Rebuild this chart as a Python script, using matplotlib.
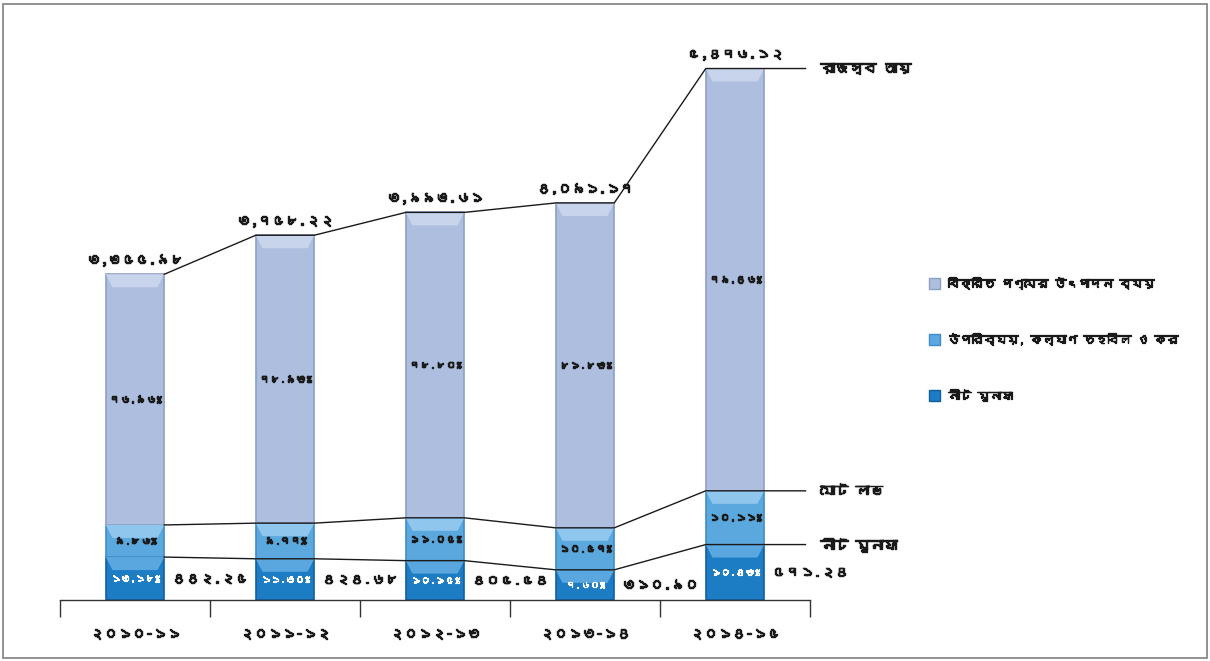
import matplotlib
matplotlib.use("Agg")
import matplotlib.pyplot as plt
from matplotlib import font_manager as fm
from matplotlib import patheffects as pe
from matplotlib.ft2font import FT2Font
from matplotlib.patches import Polygon, Rectangle, Patch
import numpy as np

# ---- data -------------------------------------------------------------
years = ["২০১০-১১", "২০১১-১২", "২০১২-১৩", "২০১৩-১৪", "২০১৪-১৫"]
revenue = [3355.98, 3758.22, 3993.61, 4091.17, 5476.12]      # রাজস্ব আয়
net_profit = [442.25, 424.68, 405.54, 310.90, 571.24]        # নীট মুনাফা
cogs_pct = [76.96, 78.93, 78.80, 81.83, 79.46]               # বিক্রিত পণ্যের উৎপাদন ব্যয় (%)
overhead_pct = [9.86, 9.77, 11.05, 10.57, 10.11]             # উপরিব্যয়, কল্যাণ তহবিল ও কর (%)
net_pct = [13.18, 11.30, 10.15, 7.60, 10.43]                 # নীট মুনাফা (%)

series_names = ["বিক্রিত পণ্যের উৎপাদন ব্যয়", "উপরিব্যয়, কল্যাণ তহবিল ও কর", "নীট মুনাফা"]
line_names = ["রাজস্ব আয়", "মোট লাভ", "নীট মুনাফা"]


# ---- font: pick an installed face that has Bengali glyphs, if any -----
def bengali_family():
    seen = set()
    for f in fm.fontManager.ttflist:
        if f.fname in seen:
            continue
        seen.add(f.fname)
        try:
            cmap = FT2Font(f.fname).get_charmap()
        except Exception:
            continue
        if ord("ক") in cmap and ord("৫") in cmap:
            return f.name
    return None


fam = bengali_family()
families = ([fam] if fam else []) + ["DejaVu Sans"]
plt.rcParams["font.family"] = families

BN = str.maketrans("0123456789", "০১২৩৪৫৬৭৮৯")


def bn(s):
    return s.translate(BN)


INK = "#1a1a1a"
# thicken the strokes so the text reads as bold
heavy = [pe.withStroke(linewidth=1.0, foreground=INK)]
heavy_white = [pe.withStroke(linewidth=0.8, foreground="white")]

# ---- colours ----------------------------------------------------------
seg_face = ["#adbede", "#5ba8de", "#1c7cc4"]
seg_bevel = ["#c8d4ec", "#8fc6ee", "#5aa6de"]
seg_edge = ["#8d9fc6", "#3f8cc8", "#135f9f"]

# ---- figure / axes ----------------------------------------------------
W, H = 1210, 661
fig = plt.figure(figsize=(W / 100, H / 100), dpi=100)
fig.patch.set_facecolor("white")
fig.add_artist(Rectangle((3 / W, 3 / H), 1 - 6 / W, 1 - 7 / H, transform=fig.transFigure,
                         fill=False, edgecolor="#7f7f7f", linewidth=1.2))

ax = fig.add_axes([60 / W, 61 / H, 750 / W, 560 / H])
ax.set_xlim(-0.5, 4.5)
ax.set_ylim(0, 5770)
for s in ["top", "right", "left"]:
    ax.spines[s].set_visible(False)
ax.spines["bottom"].set_color("#333333")
ax.spines["bottom"].set_linewidth(1.0)
ax.set_yticks([])

x = np.arange(len(years))
width = 0.39
units_per_px = 5770 / 560

rev = np.array(revenue)
bottom_h = np.array(net_profit)
middle_h = rev * np.array(overhead_pct) / 100.0
top_h = rev - bottom_h - middle_h
gross = bottom_h + middle_h

segments = [(bottom_h, np.zeros_like(rev), 2), (middle_h, bottom_h, 1), (top_h, gross, 0)]

for heights, bases, k in segments:
    ax.bar(x, heights, width, bottom=bases, color=seg_face[k], edgecolor=seg_edge[k],
           linewidth=1.2, zorder=2)
    # lighter bevel along the top of each segment
    bev = 13 * units_per_px
    inset = 0.045
    for xi, h, b in zip(x, heights, bases):
        t = b + h
        bh = min(bev, h * 0.45)
        poly = Polygon([(xi - width / 2, t), (xi + width / 2, t),
                        (xi + width / 2 - inset, t - bh), (xi - width / 2 + inset, t - bh)],
                       closed=True, facecolor=seg_bevel[k], edgecolor="none", zorder=2.5)
        ax.add_patch(poly)

# percentage labels inside the segments
for xi, h, b, p in zip(x, top_h, gross, cogs_pct):
    ax.text(xi, b + h / 2, bn(f"{p:.2f}%"), ha="center", va="center", fontsize=7.5,
            color=INK, zorder=4, path_effects=heavy)
for xi, h, b, p in zip(x, middle_h, bottom_h, overhead_pct):
    ax.text(xi, b + h / 2, bn(f"{p:.2f}%"), ha="center", va="center", fontsize=7.5,
            color=INK, zorder=4, path_effects=heavy)
for xi, h, p in zip(x, bottom_h, net_pct):
    ax.text(xi, h / 2, bn(f"{p:.2f}%"), ha="center", va="center", fontsize=7,
            color="white", zorder=4, path_effects=heavy_white)

# revenue totals above the bars
for xi, r in zip(x, revenue):
    ax.annotate(bn(f"{r:,.2f}"), (xi, r), xytext=(0, 6), textcoords="offset points",
                ha="center", va="bottom", fontsize=10, color=INK, path_effects=heavy)

# net profit values beside the bars
for xi, n in zip(x, net_profit):
    ax.text(xi + width / 2 + 0.05, n / 2, bn(f"{n:,.2f}"), ha="left", va="center",
            fontsize=10, color=INK, path_effects=heavy)

# connecting lines: revenue, gross profit, net profit
line_end = x[-1] + 0.47
for levels, name in zip([rev, gross, bottom_h], line_names):
    xs, ys = [x[0] + width / 2], [levels[0]]
    for xi, lv in zip(x[1:], levels[1:]):
        xs += [xi - width / 2, xi + width / 2]
        ys += [lv, lv]
    xs.append(line_end)
    ys.append(levels[-1])
    ax.plot(xs, ys, color=INK, linewidth=1.0, zorder=3, clip_on=False)
    ax.text(line_end + 0.1, levels[-1], name, ha="left", va="center", fontsize=10,
            color=INK, clip_on=False, path_effects=heavy)

# category axis: ticks at the boundaries, labels at the centres
ax.set_xticks(np.arange(-0.5, len(years), 1.0))
ax.set_xticklabels([])
ax.tick_params(axis="x", which="major", direction="out", length=12, width=1.0, color="#333333")
ax.set_xticks(x, minor=True)
ax.set_xticklabels(years, minor=True, fontsize=10, color=INK)
for lbl in ax.get_xticklabels(minor=True):
    lbl.set_path_effects(heavy)
ax.tick_params(axis="x", which="minor", length=0, pad=20)

# legend
handles = [Patch(facecolor=seg_face[k], edgecolor=seg_edge[k]) for k in range(3)]
leg = fig.legend(handles, series_names, loc="upper left", bbox_to_anchor=(918 / W, 1 - 266 / H),
                 frameon=False, labelspacing=3.7, handlelength=1.0, handleheight=1.0,
                 handletextpad=0.6, prop={"size": 8.5})
for t in leg.get_texts():
    t.set_color(INK)
    t.set_path_effects([pe.withStroke(linewidth=0.9, foreground=INK)])

fig.savefig("out.png", dpi=100, facecolor="white")
